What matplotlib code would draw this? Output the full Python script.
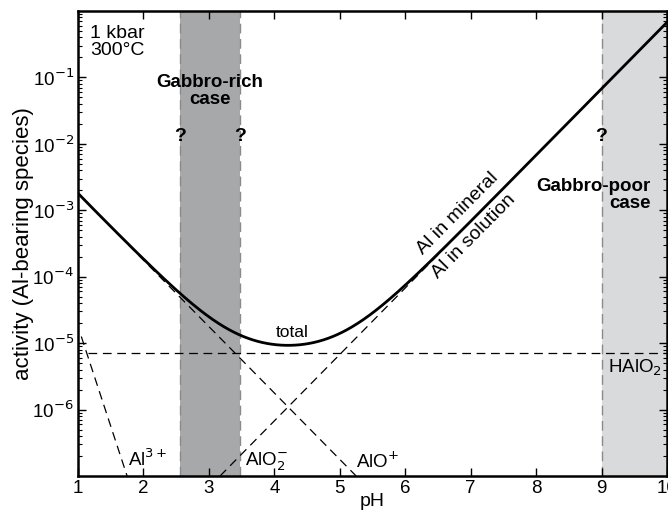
import numpy as np
import matplotlib
matplotlib.use("Agg")
import matplotlib.pyplot as plt
from matplotlib.ticker import LogLocator, NullFormatter, FixedLocator, FixedFormatter

plt.rcParams['font.family'] = ['Liberation Sans', 'DejaVu Sans']

# log activity lines of species: log a = intercept + slope * pH
species = ["Al3+", "AlO+", "AlO2-", "HAlO2"]
intercepts = [-1.75, -1.75, -10.17, -5.15]
slopes = [-3.0, -1.0, 1.0, 0.0]
ph_ranges = [(1.05, 1.75), (1.0, 5.25), (3.17, 10.0), (1.15, 10.0)]

gabbro_rich = (2.56, 3.47)
gabbro_poor = (9.0, 10.0)

xticks = [1, 2, 3, 4, 5, 6, 7, 8, 9, 10]
yticks = [1e-6, 1e-5, 1e-4, 1e-3, 1e-2, 1e-1]
ytick_labels = ["10$^{-6}$", "10$^{-5}$", "10$^{-4}$", "10$^{-3}$", "10$^{-2}$", "10$^{-1}$"]

fig = plt.figure(figsize=(6.68, 5.15), dpi=100)
ax = fig.add_axes([0.1168, 0.0757, 0.8817, 0.9029])

ax.axvspan(*gabbro_rich, color="#a7a8aa", lw=0, zorder=0)
ax.axvspan(*gabbro_poor, color="#d9dadc", lw=0, zorder=0)
for xv in [gabbro_rich[0], gabbro_rich[1], gabbro_poor[0]]:
    ax.axvline(xv, color="#8a8a8a", ls=(0, (7, 4)), lw=1.0, zorder=1)

dash = (0, (7, 4.5))
for b, m, (lo, hi) in zip(intercepts, slopes, ph_ranges):
    x = np.linspace(lo, hi, 200)
    ax.plot(x, 10 ** (b + m * x), color="black", lw=0.9, ls=dash, zorder=2)

ph = np.linspace(1.0, 10.0, 500)
total = sum(10 ** (b + m * ph) for b, m in zip(intercepts, slopes))
ax.plot(ph, total, color="black", lw=2.0, zorder=3)

ax.set_yscale("log")
ax.set_xlim(1, 10)
ax.set_ylim(1e-7, 1)
ax.xaxis.set_major_locator(FixedLocator(xticks))
ax.yaxis.set_major_locator(FixedLocator(yticks))
ax.yaxis.set_major_formatter(FixedFormatter(ytick_labels))
ax.yaxis.set_minor_locator(LogLocator(base=10, subs=np.arange(2, 10), numticks=20))
ax.yaxis.set_minor_formatter(NullFormatter())
ax.tick_params(which="both", direction="in", top=True, right=True, labelsize=13.5, color="black")
ax.tick_params(which="major", length=6, width=1.0, pad=3)
ax.tick_params(which="minor", length=3, width=0.8)
for s in ax.spines.values():
    s.set_linewidth(1.8)

ax.set_xlabel("pH", fontsize=14, labelpad=-3)
ax.set_ylabel("activity (Al-bearing species)", fontsize=16, labelpad=-1)

ax.text(1.19, 0.62, "1 kbar\n300°C", fontsize=14, va="top", ha="left", linespacing=1.0)
ax.text(3.01, 0.062, "Gabbro-rich\ncase", fontsize=13.5, fontweight="bold", ha="center", va="center", linespacing=1.0)
for xv in [gabbro_rich[0], gabbro_rich[1], gabbro_poor[0]]:
    ax.text(xv, 1.27e-2, "?", fontsize=14, fontweight="bold", ha="center", va="center")
ax.text(9.75, 1.7e-3, "Gabbro-poor\ncase", fontsize=13.5, fontweight="bold", ha="right", va="center", linespacing=1.0)
ax.text(4.28, 1.47e-5, "total", fontsize=12.5, ha="center", va="center")
ax.text(6.8, 8.9e-4, "Al in mineral", fontsize=14, rotation=45.3, ha="center", va="center", rotation_mode="anchor")
ax.text(7.05, 4.1e-4, "Al in solution", fontsize=14, rotation=45.3, ha="center", va="center", rotation_mode="anchor")
ax.text(1.77, 1.25e-7, "Al$^{3+}$", fontsize=13.5, ha="left", va="bottom")
ax.text(3.55, 1.1e-7, "AlO$_2^{-}$", fontsize=13.5, ha="left", va="bottom")
ax.text(5.25, 1.15e-7, "AlO$^{+}$", fontsize=13.5, ha="left", va="bottom")
ax.text(9.1, 4.2e-6, "HAlO$_2$", fontsize=13.5, ha="left", va="center")

fig.savefig("out.png", dpi=100)
